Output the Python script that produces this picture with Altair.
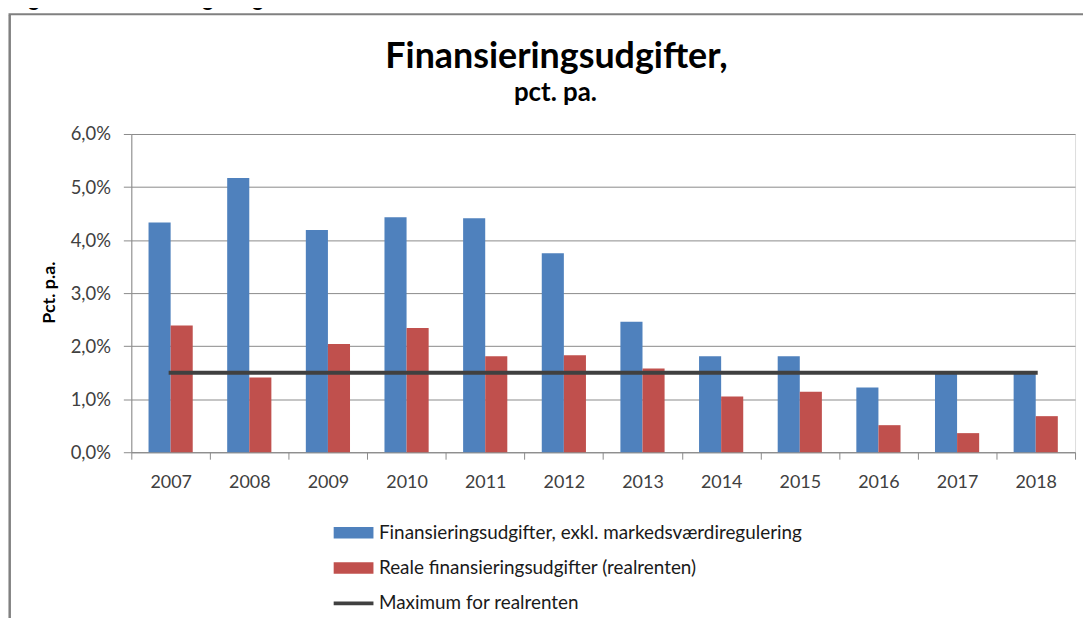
import altair as alt
import pandas as pd

# ---- data ----
years = ["2007", "2008", "2009", "2010", "2011", "2012",
         "2013", "2014", "2015", "2016", "2017", "2018"]
finans = [4.33, 5.17, 4.19, 4.43, 4.41, 3.75, 2.46, 1.81, 1.81, 1.22, 1.50, 1.50]
reale = [2.39, 1.41, 2.04, 2.34, 1.81, 1.83, 1.58, 1.05, 1.14, 0.51, 0.36, 0.68]
maksimum = [1.5, 1.5, 1.5, 1.5, 1.5, 1.5, 1.5, 1.5, 1.5, 1.5, 1.5, 1.5]

series = ["Finansieringsudgifter, exkl. markedsværdiregulering",
          "Reale finansieringsudgifter (realrenten)",
          "Maximum for realrenten"]
colors = ["#4F81BD", "#C0504D", "#404040"]
legend_shapes = ["M-2,-0.58H2V0.58H-2Z", "M-2,-0.58H2V0.58H-2Z", "M-2,-0.2H2V0.2H-2Z"]

header = "Figur 2. Finansieringsudgifter"
title = "Finansieringsudgifter,"
subtitle = "pct. pa."
y_title = "Pct. p.a."
y_ticks = [0, 1, 2, 3, 4, 5, 6]

bars_df = pd.DataFrame({
    "year": years * 2,
    "series": [series[0]] * len(years) + [series[1]] * len(years),
    "value": finans + reale,
})
line_df = pd.DataFrame({"year": years, "series": [series[2]] * len(years), "value": maksimum})
legend_df = pd.DataFrame({"series": series})

FONT = "Lato"
GRID = "#8a8a8a"

x_enc = alt.X(
    "year:N", sort=years, title=None,
    scale=alt.Scale(paddingInner=0, paddingOuter=0),
    axis=alt.Axis(labelAngle=0, tickBand="extent", tickSize=7, tickColor=GRID,
                  domainColor=GRID, labelFont=FONT, labelFontSize=18,
                  labelColor="#404040", labelBaseline="alphabetic", labelPadding=28,
                  grid=False),
)
y_enc = alt.Y(
    "value:Q", title=y_title,
    scale=alt.Scale(domain=[0, 6], nice=False),
    axis=alt.Axis(values=y_ticks,
                  labelExpr="replace(format(datum.value, '.1f'), '.', ',') + '%'",
                  tickSize=8, tickColor=GRID, domainColor=GRID, gridColor=GRID,
                  labelFont=FONT, labelFontSize=18.5, labelColor="#404040", labelPadding=13,
                  titleFont=FONT, titleFontSize=18, titleFontWeight="bold", titleColor="#000000",
                  titleAngle=270, titleAlign="center", titleBaseline="alphabetic",
                  titleX=-77, titleY=159),
)

bars = alt.Chart(bars_df).mark_bar().encode(
    x=x_enc,
    xOffset=alt.XOffset("series:N", sort=series[:2],
                        scale=alt.Scale(paddingInner=0, paddingOuter=0.78)),
    y=y_enc,
    fill=alt.Fill("series:N", scale=alt.Scale(domain=series[:2], range=colors[:2]), legend=None),
)

line = alt.Chart(line_df).mark_line(strokeWidth=4, strokeCap="square", color=colors[2]).encode(
    x=alt.X("year:N", sort=years),
    y=alt.Y("value:Q"),
)

leg = alt.Legend(title=None, orient="none", legendX=213.5, legendY=391, direction="vertical",
                 symbolSize=400, symbolStrokeWidth=0, symbolOpacity=1,
                 labelFont=FONT, labelFontSize=19, labelColor="#1a1a1a",
                 labelOffset=15.5, rowPadding=15.5, padding=0, labelLimit=0)

legend_layer = alt.Chart(legend_df).mark_point(filled=True, opacity=1, size=10).encode(
    x=alt.value(-3000), y=alt.value(-3000),
    color=alt.Color("series:N", scale=alt.Scale(domain=series, range=colors), legend=leg),
    shape=alt.Shape("series:N", scale=alt.Scale(domain=series, range=legend_shapes), legend=leg),
)

one = alt.Data(values=[{"k": 1}])
border_left = alt.Chart(one).mark_rule(color="#808080", strokeWidth=2.5).encode(
    x=alt.value(-122.3), y=alt.value(-119.7), y2=alt.value(600))
border_top = alt.Chart(one).mark_rule(color="#808080", strokeWidth=2).encode(
    x=alt.value(-123.5), x2=alt.value(1100), y=alt.value(-120.5))

header_txt = alt.Chart(one).mark_text(text=header, font="Liberation Sans", fontSize=21,
                                      fontWeight="bold", align="left", baseline="alphabetic",
                                      color="#000000").encode(
    x=alt.value(-123), y=alt.value(-129))
title_txt = alt.Chart(one).mark_text(text=title, font=FONT, fontSize=36, fontWeight="bold",
                                     align="center", baseline="alphabetic",
                                     color="#000000").encode(
    x=alt.value(427.5), y=alt.value(-66.6))
subtitle_txt = alt.Chart(one).mark_text(text=subtitle, font=FONT, fontSize=26, fontWeight="bold",
                                        align="center", baseline="alphabetic",
                                        color="#000000").encode(
    x=alt.value(426.5), y=alt.value(-33.3))

chart = alt.layer(
    bars, line, legend_layer, border_left, border_top, header_txt, title_txt, subtitle_txt
).properties(
    width=949, height=320,
    autosize=alt.AutoSizeParams(type="none"),
    padding={"left": 124, "top": 125, "right": 8, "bottom": 165},
).configure_view(stroke=None).configure(background="white")

chart.save("out.html", embed_options={"renderer": "svg", "actions": False})
